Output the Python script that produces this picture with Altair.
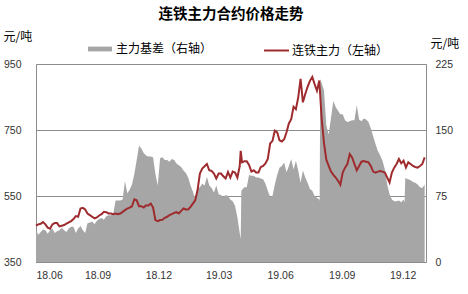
import altair as alt
import pandas as pd

CJK = "Noto Sans CJK SC"
NUM = "Liberation Sans"

# half-weekly observation dates (every 3.5 days) from 2018-06-01
dates = list(pd.date_range("2018-06-01", periods=167, freq="84h"))

# 连铁主力 (left axis, 元/吨)
price = [460, 464, 466, 471, 464, 454, 451, 464, 468, 468,
         458, 460, 462, 466, 470, 474, 480, 489, 487, 512,
         514, 509, 497, 492, 487, 482, 485, 491, 495, 502,
         501, 497, 497, 495, 497, 495, 497, 502, 507, 512,
         515, 519, 540, 537, 519, 519, 515, 522, 521, 527,
         515, 477, 474, 477, 478, 484, 487, 492, 495, 499,
         501, 497, 505, 512, 509, 509, 517, 527, 537, 568,
         618, 633, 640, 647, 628, 626, 618, 603, 618, 618,
         610, 603, 623, 606, 624, 621, 606, 640, 652, 655,
         655, 644, 624, 628, 621, 621, 638, 641, 649, 662,
         709, 717, 748, 743, 719, 715, 722, 743, 770, 783,
         820, 813, 849, 905, 834, 859, 881, 899, 911, 889,
         869, 900, 785, 710, 660, 641, 624, 614, 606, 596,
         584, 621, 636, 647, 677, 667, 647, 628, 641, 654,
         656, 654, 652, 641, 624, 621, 624, 626, 624, 621,
         606, 591, 621, 636, 647, 662, 649, 657, 636, 652,
         647, 641, 638, 636, 641, 647, 667]
price_extra_dates = ["2019-04-03"]
price_extra = [687]

# 主力基差 (right axis, 元/吨)
basis = [36, 31, 34, 37, 36, 32, 36, 38, 33, 35,
         36, 39, 36, 34, 38, 40, 40, 33, 38, 41,
         36, 33, 44, 45, 46, 43, 47, 49, 50, 48,
         52, 53, 53, 55, 70, 70, 70, 71, 92, 78,
         82, 88, 100, 116, 132, 129, 124, 121, 120, 120,
         119, 100, 87, 118, 119, 116, 116, 114, 117, 116,
         112, 110, 108, 104, 101, 96, 87, 80, 71, 84,
         85, 89, 87, 97, 87, 84, 79, 87, 77, 76,
         74, 76, 75, 71, 69, 64, 51, 33, 82, 85,
         85, 99, 98, 98, 96, 96, 95, 94, 89, 81,
         74, 75, 88, 99, 107, 109, 113, 102, 109, 117,
         105, 115, 104, 90, 104, 96, 90, 83, 81, 75,
         73, 71, 203, 195, 155, 145, 164, 183, 176, 172,
         168, 168, 161, 159, 160, 161, 161, 178, 162, 160,
         163, 162, 159, 152, 143, 134, 126, 121, 115, 105,
         88, 77, 71, 69, 69, 70, 68, 71, 95, 94,
         93, 91, 90, 88, 85, 84, 88]
basis_extra_dates = ["2019-04-03", "2019-04-04", "2019-07-30", "2019-07-31",
                     "2019-12-04", "2019-12-05"]
basis_extra = [26, 81, 69, 208, 68, 96]

LINE_NAME = "连铁主力（左轴）"
AREA_NAME = "主力基差（右轴）"

df_p = pd.DataFrame({
    "date": dates + list(pd.to_datetime(price_extra_dates)),
    "value": price + price_extra,
}).sort_values("date")
df_p["series"] = LINE_NAME

df_b = pd.DataFrame({
    "date": dates + list(pd.to_datetime(basis_extra_dates)),
    "value": basis + basis_extra,
}).sort_values("date")
df_b["series"] = AREA_NAME

tick_dates = [alt.DateTime(year=y, month=m, date=1) for y, m in
              [(2018, 6), (2018, 9), (2018, 12), (2019, 3), (2019, 6), (2019, 9), (2019, 12)]]

x = alt.X("date:T",
          scale=alt.Scale(domain=[alt.DateTime(year=2018, month=6, date=1),
                                  alt.DateTime(year=2020, month=1, date=5)]),
          axis=alt.Axis(values=tick_dates, format="%y.%m", title=None, grid=False,
                        domain=False, ticks=False, labelPadding=8,
                        labelFont=NUM, labelFontSize=10.5, labelColor="#333333"))

area = alt.Chart(df_b).mark_area(opacity=1, interpolate="linear").encode(
    x=x,
    y=alt.Y("value:Q", scale=alt.Scale(domain=[0, 225], nice=False),
            axis=alt.Axis(orient="right", values=[0, 75, 150, 225], grid=False,
                          domain=False, ticks=False, labelPadding=9,
                          labelFont=NUM, labelFontSize=10.5, labelColor="#333333",
                          title="元/吨", titleAngle=0, titleAlign="left",
                          titleBaseline="middle", titleX=4, titleY=-21,
                          titleFont=CJK, titleFontSize=12, titleFontWeight="normal",
                          titleColor="#000000")),
    fill=alt.Fill("series:N",
                  scale=alt.Scale(domain=[AREA_NAME], range=["#A6A6A6"]),
                  legend=alt.Legend(title=None, orient="none", legendX=52, legendY=-27,
                                    symbolType="M-1,-0.2H1V0.2H-1Z",
                                    symbolSize=576, symbolStrokeWidth=0,
                                    labelOffset=4, labelFont=CJK, labelFontSize=12,
                                    labelColor="#000000", padding=0, labelLimit=300)),
)

line = alt.Chart(df_p).mark_line(strokeWidth=2).encode(
    x=x,
    y=alt.Y("value:Q", scale=alt.Scale(domain=[350, 950], nice=False),
            axis=alt.Axis(orient="left", values=[350, 550, 750, 950], grid=True,
                          gridColor="#8C8C8C", gridWidth=1,
                          domain=False, ticks=False, labelPadding=15,
                          labelFont=NUM, labelFontSize=10.5, labelColor="#333333",
                          title="元/吨", titleAngle=0, titleAlign="left",
                          titleBaseline="middle", titleX=-33, titleY=-28,
                          titleFont=CJK, titleFontSize=12, titleFontWeight="normal",
                          titleColor="#000000")),
    stroke=alt.Stroke("series:N",
                      scale=alt.Scale(domain=[LINE_NAME], range=["#9E2B2E"]),
                      legend=alt.Legend(title=None, orient="none", legendX=227, legendY=-27,
                                        symbolType="stroke", symbolSize=625,
                                        symbolStrokeWidth=2,
                                        labelOffset=2, labelFont=CJK, labelFontSize=12,
                                        labelColor="#000000", padding=0, labelLimit=300)),
)

chart = alt.layer(area, line).resolve_scale(y="independent").properties(
    width=390, height=198,
    title=alt.Title("连铁主力合约价格走势", font=CJK, fontSize=14.5, fontWeight="bold",
                    anchor="middle", frame="group", offset=8, color="#000000"),
    autosize=alt.AutoSizeParams(type="none"),
    padding={"left": 36, "top": 64, "right": 42, "bottom": 32},
).configure_view(stroke="#8C8C8C", strokeWidth=1)

chart.save("out.html", embed_options={"renderer": "svg", "actions": False})
